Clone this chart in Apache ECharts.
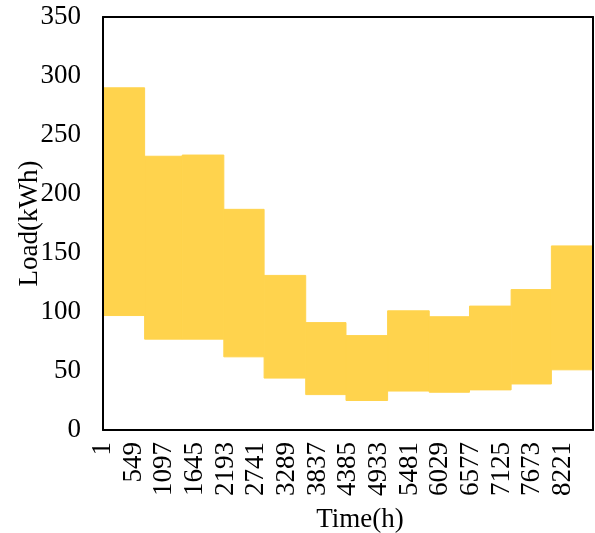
<!DOCTYPE html>
<html>
<head>
<meta charset="utf-8">
<script src="https://cdn.jsdelivr.net/npm/echarts@6/dist/echarts.min.js"></script>
<style>
html,body{margin:0;padding:0;background:#fff;}
#chart{width:595px;height:533px;}
</style>
</head>
<body>
<div id="chart"></div>
<script>
// Hours in each month of the year (8760 h total)
var monthHours = [744, 672, 744, 720, 744, 720, 744, 744, 720, 744, 720, 744];
// Daily peak load reached within each month (kWh)
var monthPeak = [290, 232, 233, 187, 131, 91, 80, 101, 96, 105, 119, 156];
// Daily minimum load within each month (kWh)
var monthBase = [97, 77, 77, 62, 44, 30, 25, 33, 32, 34, 39, 51];
// Axis settings
var hourTickStep = 548;   // labels 1, 549, 1097, ... 8221
var totalHours = 8760;
var yTicks = [0, 50, 100, 150, 200, 250, 300, 350];

var bands = [];
var start = 0;
for (var i = 0; i < monthHours.length; i++) {
  var end = start + monthHours[i];
  bands.push([start, end, monthBase[i], monthPeak[i]]);
  start = end;
}

var fillColor = '#FFD34D';
var fontFamily = '"Liberation Serif", "DejaVu Serif", serif';
var chart = echarts.init(document.getElementById('chart'), null, {renderer: 'canvas'});
var lineStyle = {color: '#000', width: 2};

chart.setOption({
  animation: false,
  backgroundColor: '#fff',
  grid: {left: 103, right: 2, top: 17, bottom: 103, containLabel: false, outerBoundsMode: 'none'},
  xAxis: [{
    type: 'value',
    min: 0,
    max: totalHours,
    interval: hourTickStep,
    z: 5,
    name: 'Time(h)',
    nameLocation: 'middle',
    nameGap: 76,
    nameMoveOverlap: false,
    nameTextStyle: {fontFamily: fontFamily, fontSize: 27, color: '#000', padding: [0, 0, 0, 24]},
    axisLine: {show: true, lineStyle: lineStyle},
    axisTick: {show: false},
    splitLine: {show: false},
    axisLabel: {
      rotate: 90,
      margin: 12,
      showMaxLabel: false,
      fontFamily: fontFamily, fontSize: 27, color: '#000',
      formatter: function (v) { return String(v + 1); }
    }
  }, {
    type: 'value',
    position: 'top',
    min: 0, max: totalHours,
    z: 5,
    axisLine: {show: true, onZero: false, lineStyle: lineStyle},
    axisTick: {show: false},
    axisLabel: {show: false},
    splitLine: {show: false}
  }],
  yAxis: [{
    type: 'value',
    min: yTicks[0],
    max: yTicks[yTicks.length - 1],
    interval: yTicks[1] - yTicks[0],
    z: 5,
    name: 'Load(kWh)',
    nameLocation: 'middle',
    nameGap: 60,
    nameMoveOverlap: false,
    nameTextStyle: {fontFamily: fontFamily, fontSize: 27, color: '#000'},
    axisLine: {show: true, lineStyle: lineStyle},
    axisTick: {show: false},
    splitLine: {show: false},
    axisLabel: {margin: 22, fontFamily: fontFamily, fontSize: 27, color: '#000'}
  }, {
    type: 'value',
    position: 'right',
    min: yTicks[0],
    max: yTicks[yTicks.length - 1],
    z: 5,
    axisLine: {show: true, onZero: false, lineStyle: lineStyle},
    axisTick: {show: false},
    axisLabel: {show: false},
    splitLine: {show: false}
  }],
  series: [{
    type: 'custom',
    name: 'Load',
    xAxisIndex: 0,
    yAxisIndex: 0,
    encode: {x: [0, 1], y: [2, 3]},
    data: bands,
    renderItem: function (params, api) {
      var p1 = api.coord([api.value(0), api.value(3)]);
      var p2 = api.coord([api.value(1), api.value(2)]);
      return {
        type: 'rect',
        shape: {x: p1[0], y: p1[1], width: p2[0] - p1[0], height: p2[1] - p1[1]},
        style: {fill: fillColor, stroke: fillColor, lineWidth: 1}
      };
    }
  }]
});
</script>
</body>
</html>
